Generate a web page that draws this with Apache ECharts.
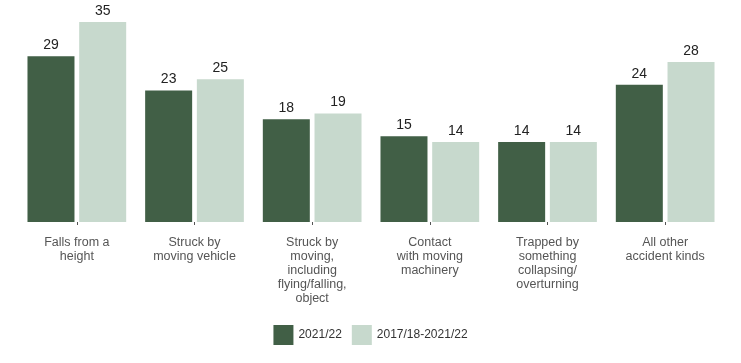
<!DOCTYPE html>
<html><head><meta charset="utf-8">
<script src="https://cdn.jsdelivr.net/npm/echarts@6/dist/echarts.min.js"></script>
<style>html,body{margin:0;padding:0;background:#fff}#c{width:741px;height:363px}</style>
</head><body><div id="c"></div>
<script>
const categories = ["Falls from a\nheight", "Struck by\nmoving vehicle", "Struck by\nmoving,\nincluding\nflying/falling,\nobject", "Contact\nwith moving\nmachinery", "Trapped by\nsomething\ncollapsing/\noverturning", "All other\naccident kinds"];
const seriesNames = ["2021/22", "2017/18-2021/22"];
const values2021 = [29, 23, 18, 15, 14, 24];
const valuesAvg = [35, 25, 19, 14, 14, 28];
const colors = ["#415f46", "#c7d9cd"];

const chart = echarts.init(document.getElementById('c'));
const font = "Liberation Sans, Arial, sans-serif";
chart.setOption({
  animation: false,
  textStyle: {fontFamily: font},
  grid: {left: 18, right: 17, top: 22, bottom: 141},
  legend: {
    bottom: 13, left: 'center', itemWidth: 20, itemHeight: 20, itemGap: 10, icon: 'rect',
    textStyle: {fontSize: 12, color: '#333', fontFamily: font},
    data: seriesNames
  },
  xAxis: {
    type: 'category', data: categories, offset: 9,
    axisLine: {show: false},
    axisTick: {show: true, length: 3, alignWithLabel: true, lineStyle: {color: '#555'}},
    axisLabel: {interval: 0, fontSize: 12.5, color: '#555', lineHeight: 14, margin: 5, fontFamily: font}
  },
  yAxis: {type: 'value', min: 0, max: 35, show: false, splitLine: {show: false}},
  series: [
    {name: seriesNames[0], type: 'bar', data: values2021, barWidth: 47, barGap: '10%',
     itemStyle: {color: colors[0]},
     label: {show: true, position: 'top', distance: 4, fontSize: 14, color: '#222', fontFamily: font}},
    {name: seriesNames[1], type: 'bar', data: valuesAvg, barWidth: 47,
     itemStyle: {color: colors[1]},
     label: {show: true, position: 'top', distance: 4, fontSize: 14, color: '#222', fontFamily: font}}
  ]
});
</script></body></html>
